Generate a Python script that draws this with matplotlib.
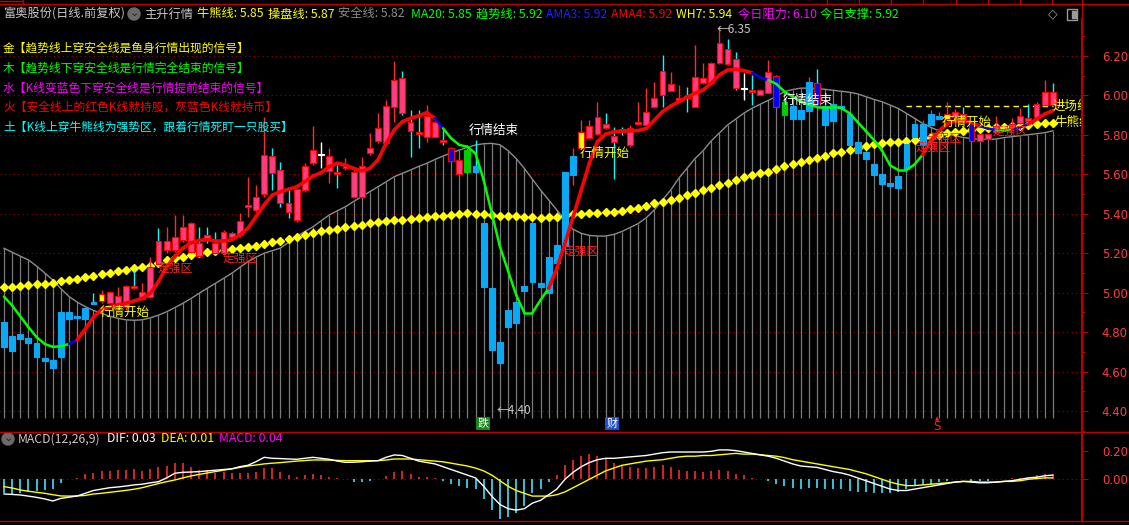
import matplotlib
matplotlib.use("Agg")
import matplotlib.pyplot as plt
from matplotlib.collections import LineCollection
from matplotlib.patches import Ellipse, Rectangle
import numpy as np

plt.rcParams['font.family'] = ['Noto Sans CJK SC', 'DejaVu Sans']

# ---------------- data ----------------
opens = [4.853, 4.782, 4.765, 4.771, 4.743, 4.667, 4.658, 4.675, 4.903, 4.882,
         4.866, 4.954, 4.958, 4.946, 4.929, 4.929, 5.034, 4.966, 4.980, 5.262,
         5.216, 5.216, 5.267, 5.208, 5.253, 5.292, 5.253, 5.199, 5.304, 5.292,
         5.433, 5.419, 5.500, 5.693, 5.622, 5.453, 5.368, 5.520, 5.659, 5.698,
         5.618, 5.613, 5.630, 5.484, 5.484, 5.710, 5.769, 5.760, 5.943, 6.090,
         5.867, 5.815, 5.791, 5.791, 5.774, 5.669, 5.600, 5.723, 5.642, 5.355,
         5.025, 4.750, 4.827, 4.848, 5.034, 5.056, 5.050, 5.000, 5.149, 5.238,
         5.597, 5.732, 5.783, 5.803, 5.854, 5.796, 5.830, 5.749, 5.854, 5.850,
         5.943, 6.124, 6.024, 5.973, 5.995, 5.943, 6.065, 6.062, 6.163, 6.234,
         6.183, 6.034, 6.028, 6.002, 6.014, 6.101, 5.968, 5.946, 5.926, 5.923,
         6.062, 5.946, 5.957, 5.945, 5.906, 5.766, 5.713, 5.652, 5.602, 5.558,
         5.532, 5.627, 5.788, 5.749, 5.850, 5.882, 5.880, 5.889, 5.906, 5.859,
         5.804, 5.779, 5.816, 5.830, 5.833, 5.859, 5.885, 5.889, 5.951, 6.019]
highs = [4.853, 4.782, 4.790, 4.771, 4.743, 4.667, 4.658, 4.903, 4.903, 4.882,
         4.937, 4.997, 5.013, 5.010, 5.030, 5.040, 5.115, 5.047, 5.182, 5.326,
         5.334, 5.394, 5.394, 5.360, 5.334, 5.334, 5.309, 5.320, 5.310, 5.402,
         5.588, 5.546, 5.892, 5.732, 5.664, 5.537, 5.530, 5.656, 5.845, 5.766,
         5.732, 5.647, 5.681, 5.620, 5.689, 5.808, 5.909, 5.977, 6.176, 6.124,
         5.926, 5.926, 5.951, 5.875, 5.825, 5.740, 5.680, 5.730, 5.774, 5.355,
         5.025, 4.750, 4.912, 4.953, 5.034, 5.355, 5.050, 5.179, 5.242, 5.610,
         5.732, 5.875, 5.875, 5.968, 5.913, 5.842, 5.840, 5.850, 5.968, 6.036,
         6.070, 6.205, 6.120, 6.053, 6.044, 6.256, 6.163, 6.170, 6.350, 6.285,
         6.222, 6.112, 6.104, 6.035, 6.180, 6.105, 5.970, 5.946, 5.926, 6.095,
         6.133, 5.946, 5.957, 5.945, 5.906, 5.766, 5.713, 5.652, 5.602, 5.558,
         5.591, 5.754, 5.855, 5.875, 5.926, 5.918, 5.968, 5.930, 5.943, 5.862,
         5.806, 5.806, 5.896, 5.832, 5.884, 5.935, 5.957, 5.968, 6.078, 6.062]
lows = [4.726, 4.706, 4.765, 4.746, 4.675, 4.655, 4.616, 4.675, 4.866, 4.870,
        4.866, 4.941, 4.946, 4.940, 4.912, 4.912, 5.020, 4.963, 4.971, 5.140,
        5.199, 5.208, 5.258, 5.199, 5.182, 5.250, 5.191, 5.190, 5.270, 5.284,
        5.385, 5.410, 5.487, 5.520, 5.436, 5.377, 5.360, 5.512, 5.647, 5.630,
        5.554, 5.529, 5.622, 5.480, 5.480, 5.700, 5.757, 5.750, 5.867, 5.900,
        5.689, 5.732, 5.766, 5.785, 5.749, 5.660, 5.590, 5.605, 5.605, 5.030,
        4.709, 4.645, 4.827, 4.848, 5.010, 5.056, 5.030, 5.000, 5.149, 5.238,
        5.546, 5.730, 5.780, 5.800, 5.830, 5.575, 5.800, 5.740, 5.850, 5.845,
        5.935, 5.943, 6.020, 5.970, 5.918, 5.940, 6.060, 6.060, 6.160, 6.155,
        6.030, 5.977, 5.951, 6.000, 6.010, 5.940, 5.900, 5.880, 5.880, 5.923,
        5.943, 5.850, 5.870, 5.935, 5.749, 5.710, 5.678, 5.597, 5.551, 5.541,
        5.532, 5.627, 5.788, 5.749, 5.850, 5.882, 5.880, 5.885, 5.878, 5.768,
        5.768, 5.777, 5.814, 5.823, 5.831, 5.857, 5.868, 5.887, 5.949, 5.949]
closes = [4.726, 4.706, 4.790, 4.746, 4.675, 4.655, 4.616, 4.903, 4.866, 4.870,
          4.924, 4.941, 4.993, 5.002, 4.985, 5.034, 5.022, 5.002, 5.131, 5.145,
          5.262, 5.284, 5.334, 5.355, 5.186, 5.267, 5.199, 5.309, 5.281, 5.363,
          5.444, 5.487, 5.700, 5.608, 5.453, 5.410, 5.524, 5.642, 5.723, 5.702,
          5.693, 5.600, 5.644, 5.613, 5.642, 5.735, 5.836, 5.946, 6.078, 5.912,
          5.821, 5.803, 5.896, 5.865, 5.762, 5.732, 5.673, 5.610, 5.610, 5.030,
          4.709, 4.645, 4.912, 4.953, 5.010, 5.355, 5.030, 5.179, 5.242, 5.610,
          5.693, 5.813, 5.845, 5.892, 5.833, 5.762, 5.815, 5.833, 5.867, 5.914,
          5.985, 6.002, 6.058, 5.985, 5.985, 6.092, 6.087, 6.163, 6.264, 6.159,
          6.036, 6.038, 6.016, 6.028, 6.120, 5.943, 5.901, 5.880, 5.880, 6.070,
          5.943, 5.850, 5.870, 5.935, 5.749, 5.710, 5.678, 5.597, 5.551, 5.541,
          5.591, 5.754, 5.855, 5.855, 5.906, 5.896, 5.906, 5.914, 5.880, 5.770,
          5.770, 5.804, 5.845, 5.825, 5.855, 5.896, 5.870, 5.957, 6.019, 5.951]

# body colour code of each K line: p pink, b grey-blue, y yellow, g green, d blue, w white
body_codes = ("b" * 12 + "y" + "p" * 26 + "w" + "p" * 15 + "d" + "p" + "g" + "b" * 13 + "y"
              + "p" * 19 + "w" + "p" * 3 + "d" + "g" + "b" * 3 + "d" + "b" * 15 + "y"
              + "p" * 2 + "d" + "p" * 10)

# 趋势线
trend = [4.980, 4.935, 4.880, 4.825, 4.775, 4.740, 4.725, 4.728, 4.740, 4.760,
         4.815, 4.875, 4.915, 4.929, 4.938, 4.946, 4.958, 4.971, 4.997, 5.056,
         5.131, 5.182, 5.225, 5.253, 5.265, 5.268, 5.262, 5.262, 5.268, 5.292,
         5.326, 5.385, 5.445, 5.495, 5.512, 5.524, 5.537, 5.563, 5.591, 5.608,
         5.639, 5.656, 5.647, 5.630, 5.618, 5.630, 5.673, 5.757, 5.825, 5.867,
         5.884, 5.896, 5.913, 5.884, 5.833, 5.783, 5.749, 5.740, 5.705, 5.571,
         5.402, 5.233, 5.110, 4.988, 4.898, 4.898, 4.963, 5.022, 5.123, 5.250,
         5.385, 5.520, 5.656, 5.766, 5.804, 5.815, 5.820, 5.820, 5.822, 5.833,
         5.875, 5.918, 5.946, 5.968, 5.991, 6.011, 6.028, 6.062, 6.104, 6.129,
         6.133, 6.126, 6.115, 6.092, 6.078, 6.058, 6.019, 5.994, 5.968, 5.951,
         5.943, 5.943, 5.943, 5.935, 5.910, 5.865, 5.820, 5.774, 5.720, 5.645,
         5.622, 5.622, 5.650, 5.700, 5.770, 5.820, 5.855, 5.872, 5.872, 5.862,
         5.845, 5.832, 5.825, 5.822, 5.825, 5.838, 5.855, 5.880, 5.905, 5.923]
# colour of each trend segment: g green, b blue, r red
trend_codes = ("g" * 8 + "b" + "r" * 44 + "b" + "g" * 13 + "r" * 25 + "b" * 2
               + "g" * 19 + "r" * 7 + "b" * 2 + "g" * 2 + "b" * 2 + "r" * 3)

# 安全线
safety = [5.225, 5.205, 5.185, 5.166, 5.135, 5.100, 5.064, 5.020, 4.980, 4.952,
          4.929, 4.910, 4.895, 4.880, 4.870, 4.862, 4.860, 4.862, 4.872, 4.886,
          4.903, 4.924, 4.946, 4.970, 4.997, 5.022, 5.047, 5.072, 5.098, 5.128,
          5.157, 5.180, 5.200, 5.213, 5.226, 5.255, 5.284, 5.310, 5.334, 5.364,
          5.394, 5.415, 5.436, 5.462, 5.487, 5.512, 5.537, 5.562, 5.588, 5.605,
          5.622, 5.640, 5.656, 5.675, 5.693, 5.708, 5.723, 5.736, 5.749, 5.755,
          5.757, 5.750, 5.720, 5.680, 5.630, 5.575, 5.520, 5.470, 5.419, 5.368,
          5.321, 5.301, 5.290, 5.287, 5.287, 5.295, 5.310, 5.330, 5.350, 5.380,
          5.420, 5.470, 5.520, 5.580, 5.630, 5.680, 5.720, 5.770, 5.810, 5.850,
          5.880, 5.910, 5.935, 5.955, 5.975, 5.995, 6.020, 6.030, 6.037, 6.037,
          6.035, 6.031, 6.026, 6.021, 6.016, 6.008, 5.994, 5.980, 5.968, 5.951,
          5.934, 5.909, 5.884, 5.858, 5.838, 5.821, 5.808, 5.794, 5.787, 5.781,
          5.777, 5.777, 5.779, 5.786, 5.791, 5.796, 5.801, 5.806, 5.811, 5.821]

# 牛熊线
bull_bear = [5.027, 5.031, 5.035, 5.039, 5.042, 5.046, 5.050, 5.057, 5.064, 5.071,
             5.078, 5.085, 5.093, 5.102, 5.111, 5.117, 5.123, 5.129, 5.135, 5.150,
             5.166, 5.174, 5.182, 5.190, 5.199, 5.206, 5.213, 5.217, 5.220, 5.225,
             5.230, 5.238, 5.247, 5.255, 5.262, 5.273, 5.284, 5.294, 5.304, 5.311,
             5.318, 5.325, 5.331, 5.337, 5.343, 5.352, 5.360, 5.364, 5.368, 5.370,
             5.373, 5.379, 5.385, 5.387, 5.389, 5.394, 5.399, 5.402, 5.400, 5.397,
             5.394, 5.391, 5.389, 5.387, 5.385, 5.382, 5.380, 5.382, 5.385, 5.391,
             5.397, 5.400, 5.402, 5.405, 5.407, 5.411, 5.416, 5.422, 5.428, 5.440,
             5.453, 5.461, 5.470, 5.482, 5.495, 5.507, 5.520, 5.533, 5.546, 5.558,
             5.571, 5.584, 5.597, 5.605, 5.613, 5.626, 5.640, 5.653, 5.664, 5.674,
             5.684, 5.695, 5.707, 5.715, 5.723, 5.733, 5.744, 5.752, 5.760, 5.763,
             5.766, 5.770, 5.774, 5.782, 5.791, 5.800, 5.808, 5.815, 5.821, 5.825,
             5.828, 5.833, 5.838, 5.840, 5.843, 5.846, 5.850, 5.855, 5.859, 5.859]

entry_level = 5.946          # 进场线 (dashed)
entry_span = (111, 129)

# MACD panel
macd_hist = [-0.100, -0.105, -0.095, -0.088, -0.083, -0.076, -0.069, -0.029, 0.000, 0.012,
             0.038, 0.048, 0.060, 0.060, 0.067, 0.067, 0.074, 0.060, 0.074, 0.090,
             0.098, 0.114, 0.114, 0.086, 0.067, 0.067, 0.043, 0.050, 0.043, 0.043,
             0.043, 0.055, 0.079, 0.083, 0.055, 0.031, 0.019, 0.031, 0.038, 0.031,
             0.014, 0.007, 0.000, -0.017, -0.017, -0.010, 0.000, 0.024, 0.055, 0.060,
             0.040, 0.020, 0.020, 0.010, -0.010, -0.030, -0.050, -0.060, -0.070, -0.140,
             -0.220, -0.280, -0.270, -0.240, -0.190, -0.100, -0.070, -0.020, 0.030, 0.100,
             0.140, 0.170, 0.180, 0.170, 0.150, 0.120, 0.100, 0.090, 0.080, 0.080,
             0.090, 0.100, 0.090, 0.070, 0.060, 0.060, 0.050, 0.060, 0.070, 0.060,
             0.040, 0.030, 0.010, 0.000, -0.010, -0.030, -0.050, -0.060, -0.070, -0.060,
             -0.060, -0.070, -0.070, -0.070, -0.080, -0.090, -0.090, -0.100, -0.100, -0.100,
             -0.090, -0.070, -0.050, -0.040, -0.030, -0.020, -0.010, 0.000, 0.000, -0.010,
             -0.010, -0.010, 0.000, 0.000, 0.010, 0.010, 0.020, 0.030, 0.040, 0.040]
dif = [-0.105, -0.108, -0.112, -0.120, -0.129, -0.140, -0.155, -0.136, -0.128, -0.119,
       -0.100, -0.080, -0.070, -0.060, -0.055, -0.048, -0.040, -0.035, -0.025, -0.017,
       0.010, 0.043, 0.050, 0.052, 0.055, 0.060, 0.065, 0.070, 0.074, 0.090,
       0.100, 0.126, 0.157, 0.150, 0.148, 0.145, 0.143, 0.150, 0.157, 0.150,
       0.143, 0.130, 0.121, 0.122, 0.125, 0.130, 0.133, 0.157, 0.174, 0.170,
       0.150, 0.130, 0.120, 0.110, 0.090, 0.070, 0.050, 0.030, 0.010, -0.050,
       -0.120, -0.180, -0.210, -0.220, -0.210, -0.170, -0.150, -0.110, -0.070, 0.000,
       0.050, 0.090, 0.120, 0.140, 0.150, 0.150, 0.155, 0.160, 0.165, 0.170,
       0.180, 0.190, 0.195, 0.195, 0.195, 0.195, 0.195, 0.200, 0.210, 0.210,
       0.205, 0.195, 0.185, 0.175, 0.165, 0.150, 0.130, 0.110, 0.095, 0.090,
       0.085, 0.070, 0.055, 0.045, 0.030, 0.010, -0.010, -0.030, -0.050, -0.070,
       -0.080, -0.080, -0.070, -0.060, -0.050, -0.040, -0.030, -0.020, -0.015, -0.020,
       -0.025, -0.025, -0.020, -0.015, -0.010, 0.000, 0.010, 0.015, 0.025, 0.030]
dea = [-0.052, -0.062, -0.076, -0.085, -0.093, -0.100, -0.110, -0.119, -0.120, -0.119,
       -0.115, -0.105, -0.100, -0.093, -0.086, -0.079, -0.071, -0.060, -0.045, -0.030,
       -0.017, -0.005, 0.010, 0.024, 0.035, 0.045, 0.055, 0.065, 0.075, 0.085,
       0.095, 0.102, 0.110, 0.115, 0.119, 0.125, 0.130, 0.134, 0.138, 0.138,
       0.137, 0.135, 0.133, 0.133, 0.133, 0.133, 0.133, 0.138, 0.145, 0.145,
       0.145, 0.140, 0.135, 0.130, 0.125, 0.115, 0.105, 0.095, 0.080, 0.060,
       0.030, -0.010, -0.050, -0.080, -0.100, -0.120, -0.120, -0.120, -0.110, -0.090,
       -0.060, -0.030, 0.000, 0.030, 0.060, 0.080, 0.100, 0.110, 0.120, 0.130,
       0.135, 0.140, 0.150, 0.160, 0.165, 0.165, 0.170, 0.170, 0.175, 0.180,
       0.185, 0.180, 0.180, 0.175, 0.170, 0.165, 0.155, 0.140, 0.130, 0.120,
       0.110, 0.100, 0.090, 0.080, 0.070, 0.055, 0.040, 0.020, 0.000, -0.020,
       -0.035, -0.045, -0.045, -0.040, -0.035, -0.030, -0.025, -0.020, -0.015, -0.015,
       -0.020, -0.020, -0.020, -0.015, -0.015, -0.010, 0.000, 0.005, 0.010, 0.010]

price_ticks = [4.40, 4.60, 4.80, 5.00, 5.20, 5.40, 5.60, 5.80, 6.00, 6.20]
macd_ticks = [0.00, 0.20]

# ---------------- figure ----------------
W, H = 1129, 525


def fx(x):
    return x / W


def fy(y):
    return 1 - y / H


fig = plt.figure(figsize=(W / 100, H / 100), dpi=100, facecolor='black')
ax = fig.add_axes([0, fy(431), fx(1081), fy(18) - fy(431)], facecolor='black')
ax2 = fig.add_axes([0, fy(521), fx(1081), fy(432) - fy(521)], facecolor='black')

n = len(closes)
idx = np.arange(n)
AXRED = '#b00000'
LBLRED = '#ff3c3c'

for a in (ax, ax2):
    a.set_xlim(-4 / 8.13, 1077 / 8.13)
    for s in ('left', 'top', 'bottom'):
        a.spines[s].set_visible(False)
    a.spines['right'].set_color(AXRED)
    a.set_xticks([])
    a.yaxis.tick_right()
    a.tick_params(axis='y', colors=AXRED, labelcolor=LBLRED, labelsize=8.5,
                  length=5, width=0.8, pad=10)
    a.tick_params(axis='y', which='minor', colors=AXRED, length=3, width=0.8)

# ---- main price panel ----
ax.set_ylim(6.20 - 375 / 197.2, 6.20 + 38 / 197.2)
ax.set_yticks(price_ticks)
ax.set_yticks(np.arange(4.3, 6.35, 0.1), minor=True)
ax.set_yticklabels(['%.2f' % t for t in price_ticks], family='DejaVu Sans')
for t in price_ticks:
    ax.axhline(t, color='#a00000', lw=0.8, ls=(0, (1, 3)), zorder=0)

# safety line with sticks
stick_base = 6.20 - (418 - 56) / 197.2
ax.vlines(idx, stick_base, safety, colors='#7a7a7a', lw=0.9, zorder=1)
ax.plot(idx, safety, color='#8c8c8c', lw=1.0, zorder=2)

# bull-bear dots
ax.plot(idx, bull_bear, ls='none', marker='D', ms=3.6, color='#ffff00',
        mec='#ffff00', zorder=3)

# entry dashed line
ax.hlines(entry_level, entry_span[0], entry_span[1], colors='#ffff00', lw=1.0,
          linestyles=(0, (4, 3)), zorder=3)

# candles
face_map = {'p': '#ff3d7f', 'b': '#0aa8f5', 'y': '#ffff00', 'g': '#00cc00',
            'd': '#0000ff', 'w': '#ffffff'}
edge_map = {'p': '#ff0000', 'b': '#0aa8f5', 'y': '#ff0000', 'g': '#00cc00',
            'd': '#ff0000', 'w': '#ffffff'}
wick_cols = []
for i in range(n):
    if body_codes[i] == 'w':
        wick_cols.append('#ffffff')
    elif closes[i] >= opens[i]:
        wick_cols.append('#ff2a2a')
    else:
        wick_cols.append('#00ffff')
ax.vlines(idx, lows, highs, colors=wick_cols, lw=1.0, zorder=4)
bot = np.minimum(opens, closes)
hgt = np.maximum(np.abs(np.array(closes) - np.array(opens)), 0.006)
ax.bar(idx, hgt, bottom=bot, width=0.72,
       color=[face_map[c] for c in body_codes],
       edgecolor=[edge_map[c] for c in body_codes], linewidth=0.8, zorder=5)

# trend line
seg_col = {'g': '#00ff00', 'b': '#0000ff', 'r': '#ff0000'}
segs = [[(i, trend[i]), (i + 1, trend[i + 1])] for i in range(n - 1)]
widths = [2.6 if c == 'r' else 1.8 for c in trend_codes]
lc = LineCollection(segs, colors=[seg_col[c] for c in trend_codes],
                    linewidths=widths, capstyle='round', zorder=6)
ax.add_collection(lc)

# signal labels
txt_kw = dict(zorder=7, va='center', ha='left', clip_on=True)
ax.text(11.8, 4.902, '行情开始', color='#ffff00', fontsize=9, **txt_kw)
ax.text(70.8, 5.708, '行情开始', color='#ffff00', fontsize=9, **txt_kw)
ax.text(115.4, 5.865, '行情开始', color='#ffff00', fontsize=9, **txt_kw)
ax.text(57.1, 5.820, '行情结束', color='#ffffff', fontsize=9, **txt_kw)
ax.text(95.8, 5.977, '行情结束', color='#ffffff', fontsize=9, **txt_kw)
for bx, by in [(18.9, 5.125), (26.9, 5.176), (68.8, 5.211),
               (112.1, 5.739), (113.5, 5.784), (121.6, 5.820)]:
    ax.text(bx, by, '走强区', color='#ff2020', fontsize=8.5, **txt_kw)
ax.text(129.0, entry_level, '进场线', color='#ffff00', fontsize=9, **txt_kw)
ax.text(129.2, 5.865, '牛熊线', color='#ffff00', fontsize=9, **txt_kw)
ax.text(87.7, 6.335, '←6.35', color='#c8c8c8', fontsize=8.5, **txt_kw)
ax.text(60.6, 4.40, '←4.40', color='#c8c8c8', fontsize=8.5, **txt_kw)

# ---- MACD panel ----
ax2.set_ylim(-(521 - 479.3) / 140, (479.3 - 432) / 140)
ax2.set_yticks(macd_ticks)
ax2.set_yticklabels(['%.2f' % t for t in macd_ticks], family='DejaVu Sans')
ax2.axhline(0, color='#a00000', lw=0.8, ls=(0, (1, 3)), zorder=0)
hist_cols = ['#ff2a2a' if v >= 0 else '#3fe3ff' for v in macd_hist]
ax2.vlines(idx, 0, macd_hist, colors=hist_cols, lw=1.2, zorder=2)
ax2.plot(idx, dea, color='#ffff00', lw=1.0, zorder=3)
ax2.plot(idx, dif, color='#ffffff', lw=1.0, zorder=4)

# ---- frame lines ----
red_lines = [([0, 1], [fy(3.5)] * 2), ([0, 1], [fy(431.5)] * 2), ([0, 1], [fy(520.5)] * 2),
             ([fx(1081.5)] * 2, [fy(0), fy(521)]), ([0, fx(23)], [fy(0.5)] * 2),
             ([fx(23)] * 2, [fy(0), fy(3.5)])]
for xs, ys in red_lines:
    fig.add_artist(plt.Line2D(xs, ys, color='#c00000', lw=1.0))
for tx in [827, 859, 891, 923, 956, 988, 1020, 1052]:
    fig.add_artist(plt.Line2D([fx(tx)] * 2, [fy(0), fy(3.5)], color='#c00000', lw=1.0))

# ---- header ----
hdr_y = fy(14)
header = [(3, '富奥股份(日线.前复权)', '#c8c8c8'), (144, '主升行情', '#c8c8c8'),
          (197, '牛熊线: 5.85', '#ffff00'), (268, '操盘线: 5.87', '#ffff00'),
          (338, '安全线: 5.82', '#8c8c8c'), (411, 'MA20: 5.85', '#00ff00'),
          (476, '趋势线: 5.92', '#00ff00'), (546, 'AMA3: 5.92', '#2020ff'),
          (611, 'AMA4: 5.92', '#ff0000'), (676, 'WH7: 5.94', '#ffff00'),
          (738, '今日阻力: 6.10', '#ff00ff'), (820, '今日支撑: 5.92', '#00ff00')]
for x0, s, c in header:
    fig.text(fx(x0), hdr_y, s, color=c, fontsize=8.8, va='center', ha='left')
fig.add_artist(Ellipse((fx(134), fy(14)), 12 / W, 12 / H, transform=fig.transFigure,
                       color='#6a6a6a'))
fig.text(fx(134), fy(13), '⌄', color='#202020', fontsize=8, ha='center', va='center',
         family='DejaVu Sans')
fig.text(fx(1053), fy(14), '◇', color='#9a9a9a', fontsize=9, ha='center', va='center',
         family='DejaVu Sans')
fig.add_artist(Rectangle((fx(1067), fy(20)), 10 / W, 11 / H, transform=fig.transFigure,
                         fill=False, ec='#9a9a9a', lw=1.0))
fig.add_artist(Rectangle((fx(1072), fy(18)), 4 / W, 7 / H, transform=fig.transFigure,
                         color='#9a9a9a'))

# legend rows
legend_rows = [('金【趋势线上穿安全线是鱼身行情出现的信号】', '#ffff00', 48),
               ('木【趋势线下穿安全线是行情完全结束的信号】', '#00ff00', 68),
               ('水【K线变蓝色下穿安全线是行情提前结束的信号】', '#ff00ff', 88),
               ('火【安全线上的红色K线就持股，灰蓝色K线就持币】', '#ff0000', 107),
               ('土【K线上穿牛熊线为强势区，跟着行情死盯一只股买】', '#00ffff', 127)]
for s, c, yy in legend_rows:
    fig.text(fx(3), fy(yy), s, color=c, fontsize=8.5, va='center', ha='left')

# bottom markers
fig.text(fx(483), fy(423.5), '跌', color='#ffffff', fontsize=8, ha='center', va='center',
         bbox=dict(boxstyle='square,pad=0.1', fc='#158a15', ec='none'))
fig.text(fx(612), fy(423.5), '财', color='#ffffff', fontsize=8, ha='center', va='center',
         bbox=dict(boxstyle='square,pad=0.1', fc='#2050c8', ec='none'))
fig.text(fx(937), fy(426), 'S', color='#ff2020', fontsize=8.5, ha='center', va='center',
         family='DejaVu Sans')
fig.text(fx(937), fy(419), '▲', color='#ff2020', fontsize=4, ha='center', va='center',
         family='DejaVu Sans')

# MACD header
fig.add_artist(Ellipse((fx(8), fy(439)), 12 / W, 12 / H, transform=fig.transFigure,
                       color='#6a6a6a'))
fig.text(fx(8), fy(438), '⌄', color='#202020', fontsize=8, ha='center', va='center',
         family='DejaVu Sans')
macd_hdr = [(18, 'MACD(12,26,9)', '#c8c8c8'), (107, 'DIF: 0.03', '#ffffff'),
            (161, 'DEA: 0.01', '#ffff00'), (219, 'MACD: 0.04', '#ff00ff')]
for x0, s, c in macd_hdr:
    fig.text(fx(x0), fy(439), s, color=c, fontsize=8.8, va='center', ha='left')

fig.savefig('out.png', dpi=100, facecolor='black')
